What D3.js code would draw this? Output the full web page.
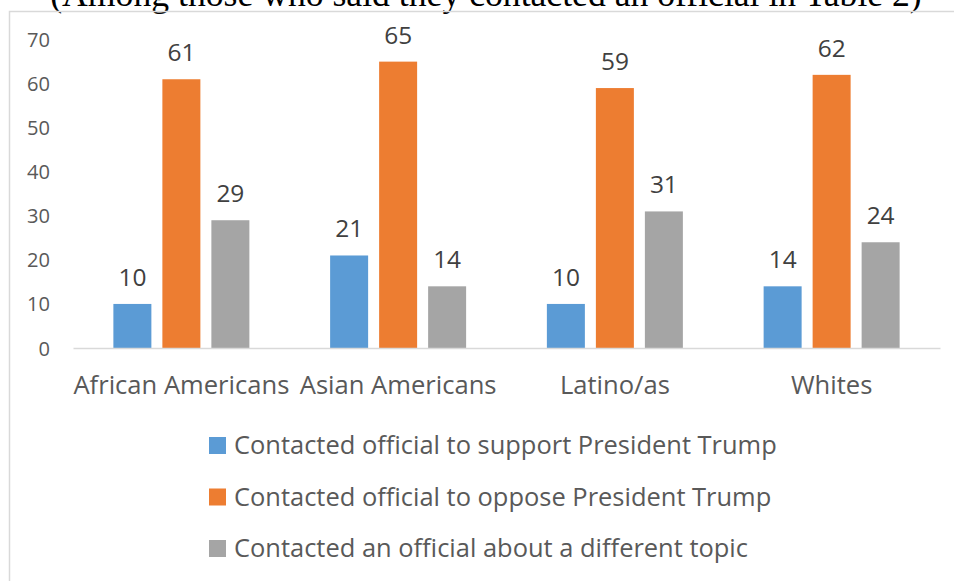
<!DOCTYPE html>
<html>
<head>
<meta charset="utf-8">
<script src="https://cdn.jsdelivr.net/npm/d3@7"></script>
<style>
  html, body { margin: 0; padding: 0; background: #fff; }
  svg { display: block; }
  text { font-family: "Open Sans", Lato, sans-serif; }
</style>
</head>
<body>
<svg id="chart" width="954" height="581"></svg>
<script>
// Share of respondents (%) by group and reason for contacting an official
const categories = ["African Americans", "Asian Americans", "Latino/as", "Whites"];
const seriesNames = [
  "Contacted official to support President Trump",
  "Contacted official to oppose President Trump",
  "Contacted an official about a different topic"
];
const supportTrump = [10, 21, 10, 14];
const opposeTrump = [61, 65, 59, 62];
const differentTopic = [29, 14, 31, 24];
const yTicks = [0, 10, 20, 30, 40, 50, 60, 70];
const seriesColors = ["#5b9bd5", "#ed7d31", "#a5a5a5"];
const titleText = "(Among those who said they contacted an official in Table 2)";

const seriesValues = [supportTrump, opposeTrump, differentTopic];

const svg = d3.select("#chart");
const textColor = "#595959";
const sansFamily = "'Open Sans', Lato, sans-serif";

// Font size that gives a sample string the wanted rendered width
function fitSize(sample, width, family) {
  const t = svg.append("text").style("font-family", family).style("font-size", "20px").text(sample);
  const w = t.node().getComputedTextLength();
  t.remove();
  return 20 * width / w;
}
const tickSize = fitSize("70", 23, sansFamily);
const valueSize = fitSize("61", 28, sansFamily);
const catSize = fitSize(categories[0], 216, sansFamily);
const legendSize = fitSize(seriesNames[0], 543, sansFamily);

// Title line sitting above the chart frame
const serifFamily = "'Liberation Serif', 'DejaVu Serif', serif";
svg.append("text")
  .attr("x", 486)
  .attr("y", 6)
  .attr("text-anchor", "middle")
  .style("font-family", serifFamily)
  .style("font-size", fitSize(titleText, 872, serifFamily) + "px")
  .attr("fill", "#000")
  .text(titleText);

// Chart frame
svg.append("rect")
  .attr("x", 9.5).attr("y", 11.5)
  .attr("width", 1000).attr("height", 1000)
  .attr("fill", "none")
  .attr("stroke", "#d9d9d9")
  .attr("stroke-width", 1.5);

const x0 = d3.scaleBand().domain(categories).range([73, 940]).paddingInner(0).paddingOuter(0);
const y = d3.scaleLinear().domain([0, 70]).range([348, 39.6]);

const barW = 38;
const barStep = 49;
const x1 = d3.scaleBand().domain(d3.range(seriesNames.length))
  .range([-barStep * 1.5, barStep * 1.5]).paddingInner(0).paddingOuter(0);

// Y axis labels
const yAxis = d3.axisLeft(y).tickValues(yTicks).tickSize(0).tickPadding(0);
const yg = svg.append("g").attr("transform", "translate(50,0)").call(yAxis);
yg.select(".domain").remove();
yg.selectAll("text")
  .style("font-family", sansFamily)
  .style("font-size", tickSize + "px")
  .attr("fill", textColor)
  .attr("dy", "0.35em");

// Bars with value labels
const groups = svg.append("g").selectAll("g")
  .data(categories)
  .join("g")
  .attr("transform", d => `translate(${x0(d) + x0.bandwidth() / 2},0)`);

groups.each(function (cat, ci) {
  const g = d3.select(this);
  seriesValues.forEach((vals, si) => {
    const cx = x1(si) + x1.bandwidth() / 2;
    g.append("rect")
      .attr("x", cx - barW / 2)
      .attr("y", y(vals[ci]))
      .attr("width", barW)
      .attr("height", y(0) - y(vals[ci]))
      .attr("fill", seriesColors[si]);
    g.append("text")
      .attr("x", cx)
      .attr("y", y(vals[ci]) - 18)
      .attr("text-anchor", "middle")
      .style("font-size", valueSize + "px")
      .attr("fill", "#404040")
      .text(vals[ci]);
  });
});

// X axis baseline and category labels
const xAxis = d3.axisBottom(x0).tickSize(0).tickPadding(0);
const xg = svg.append("g").attr("transform", `translate(0,${y(0)})`).call(xAxis);
xg.select(".domain").attr("stroke", "#d9d9d9").attr("stroke-width", 1.5);
xg.selectAll("text")
  .style("font-family", sansFamily)
  .style("font-size", catSize + "px")
  .attr("fill", textColor)
  .attr("dy", 0)
  .attr("y", 46);

// Legend
const legend = svg.append("g").selectAll("g")
  .data(seriesNames)
  .join("g")
  .attr("transform", (d, i) => `translate(209,${445.5 + i * 51.5})`);
legend.append("rect")
  .attr("x", 0).attr("y", -8.5)
  .attr("width", 17).attr("height", 17)
  .attr("fill", (d, i) => seriesColors[i]);
legend.append("text")
  .attr("x", 25)
  .attr("y", 0)
  .attr("dy", "0.35em")
  .style("font-size", legendSize + "px")
  .attr("fill", textColor)
  .text(d => d);
</script>
</body>
</html>
